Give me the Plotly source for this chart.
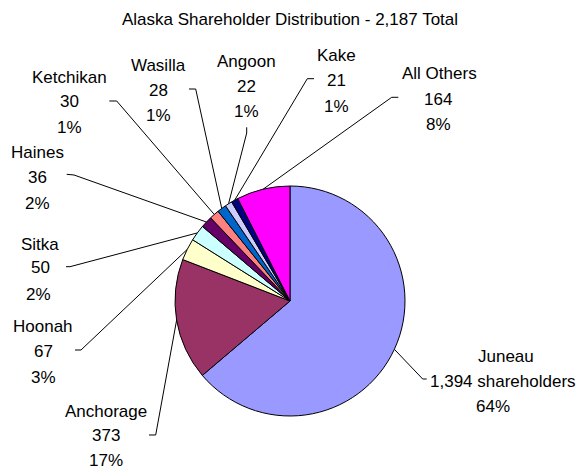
import math
import plotly.graph_objects as go

# ---------------- data ----------------
TITLE = "Alaska Shareholder Distribution - 2,187 Total"
categories = ["Juneau", "Anchorage", "Hoonah", "Sitka", "Haines",
              "Ketchikan", "Wasilla", "Angoon", "Kake", "All Others"]
values = [1394, 373, 67, 50, 36, 30, 28, 22, 21, 164]
value_suffix = [" shareholders", "", "", "", "", "", "", "", "", ""]

# ---------------- styles / layout ----------------
colors = ["#9999FF", "#993366", "#FFFFCC", "#CCFFFF", "#660066",
          "#FF8080", "#0066CC", "#CCCCFF", "#000080", "#FF00FF"]
W, H = 581, 472
PIE_CX, PIE_CY, PIE_R = 290, 301, 115
FONT = "Liberation Sans, Arial, sans-serif"
FS = 17

# label line centres (pixels): (x_name, x_val, x_pct), (y_name, y_val, y_pct)
label_x = [(505.7, 503.0, 493), (105.5, 105.5, 105.5), (43.3, 43.3, 43.3),
           (39.5, 40.3, 38.3), (37.5, 37.5, 37.5), (69.5, 69.3, 69.3),
           (158.3, 158.3, 158.3), (246.6, 246.6, 246.6), (336.3, 336.3, 336.3),
           (439, 438.3, 438.3)]
label_y = [(356.7, 381.7, 406.7), (411.0, 435.5, 460.0), (326.7, 351.7, 377.3),
           (244.3, 267.5, 294.2), (152, 177.3, 203.3), (77.5, 102, 127),
           (65.3, 90.3, 115.8), (61.7, 86.3, 111.2), (55, 80, 106),
           (73.7, 99.3, 124.3)]
# leader elbow points (pixels) near each label
leader_pts = [[(426.7, 379), (422.7, 379)], [(149, 435), (155.7, 435)],
              [(75, 350), (81, 350)], [(66, 266.7), (70, 266.7)],
              [(66.7, 174.3), (74, 175)], [(109.3, 101), (116.7, 101)],
              [(189, 89), (195.7, 89)], [(246.7, 127.3), (246.7, 133)],
              [(314, 78.7), (307.3, 78.7)], [(398.3, 97.3), (391.7, 97.3)]]


def px(x):
    return x / W


def py(y):
    return 1 - y / H


total = sum(values)
pcts = [round(v / total * 100) for v in values]

fig = go.Figure()
fig.add_trace(go.Pie(
    labels=categories, values=values, sort=False, direction="clockwise",
    rotation=0, textinfo="none",
    marker=dict(colors=colors, line=dict(color="black", width=1)),
    domain=dict(x=[px(PIE_CX - PIE_R), px(PIE_CX + PIE_R)],
                y=[py(PIE_CY + PIE_R), py(PIE_CY - PIE_R)]),
    showlegend=False, hoverinfo="label+value+percent",
))

annotations = []
shapes = []
cum = 0
for i, (cat, v) in enumerate(zip(categories, values)):
    mid = (cum + v / 2) / total * 2 * math.pi
    cum += v
    ex = PIE_CX + PIE_R * math.sin(mid)
    ey = PIE_CY - PIE_R * math.cos(mid)
    pts = leader_pts[i] + [(ex, ey)]
    path = "M " + " L ".join(f"{px(a):.5f},{py(b):.5f}" for a, b in pts)
    shapes.append(dict(type="path", xref="paper", yref="paper", path=path,
                       line=dict(color="black", width=1)))
    texts = [cat, f"{v:,}{value_suffix[i]}", f"{pcts[i]}%"]
    for t, lx, ly in zip(texts, label_x[i], label_y[i]):
        annotations.append(dict(text=t, x=px(lx), y=py(ly), xref="paper",
                                yref="paper", xanchor="center", yanchor="middle",
                                showarrow=False, borderpad=0,
                                font=dict(family=FONT, size=FS, color="black")))

fig.update_layout(
    width=W, height=H, autosize=False,
    margin=dict(l=0, r=0, t=0, b=0),
    paper_bgcolor="white", plot_bgcolor="white",
    title=dict(text=TITLE, x=px(290), y=py(19.3), xanchor="center",
               yanchor="middle", xref="paper", yref="paper",
               font=dict(family=FONT, size=FS, color="black")),
    annotations=annotations, shapes=shapes,
)
fig.write_html("out.html", config={"displayModeBar": False},
               post_script="document.body.style.margin='0';"
                           "document.body.style.overflow='hidden';")
